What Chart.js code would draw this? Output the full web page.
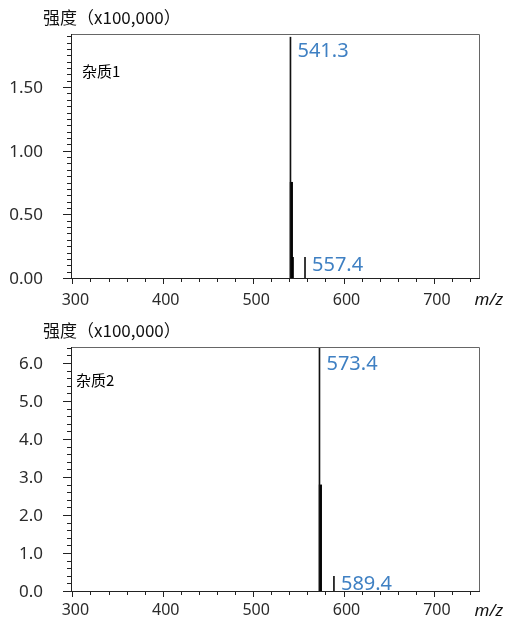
<!DOCTYPE html>
<html>
<head>
<meta charset="utf-8">
<script src="https://cdn.jsdelivr.net/npm/chart.js@4"></script>
<style>
  html, body { margin: 0; padding: 0; background: #fff; }
  .box { position: relative; width: 507px; height: 310px; }
</style>
</head>
<body>
<div class="box"><canvas id="chart1" width="507" height="310"></canvas></div>
<div class="box"><canvas id="chart2" width="507" height="310"></canvas></div>
<script>
// m/z axis (shared)
const xMin = 298.5;
const xMax = 751;
const xTickValues = [300, 400, 500, 600, 700];

// 杂质1 spectrum (intensity x100,000)
const peaks1Mz = [541.3, 557.4];
const peaks1Int = [1.90, 0.17];
const iso1Mz = [542.3, 543.3];
const iso1Int = [0.76, 0.17];
const yTicks1 = [0, 0.5, 1.0, 1.5];
const yMax1 = 1.925;

// 杂质2 spectrum (intensity x100,000)
const peaks2Mz = [573.4, 589.4];
const peaks2Int = [6.42, 0.41];
const iso2Mz = [574.4];
const iso2Int = [2.82];
const yTicks2 = [0, 1, 2, 3, 4, 5, 6];
const yMax2 = 6.45;

const yTitle = '强度（x100,000）';
const xTitle = 'm/z';

const numFont = '"Noto Sans", sans-serif';
const cjkFont = '"Noto Sans CJK SC", sans-serif';

// Frame, tick marks and text annotations
const spectrumDecor = {
    id: 'spectrumDecor',
    afterDraw(chart, args, opts) {
        const ctx = chart.ctx;
        const a = chart.chartArea;
        const xs = chart.scales.x;
        const ys = chart.scales.y;
        ctx.save();

        // top / right frame
        ctx.strokeStyle = '#666';
        ctx.lineWidth = 1;
        ctx.beginPath();
        ctx.moveTo(a.left, a.top + 0.5);
        ctx.lineTo(a.right - 0.5, a.top + 0.5);
        ctx.lineTo(a.right - 0.5, a.bottom);
        ctx.stroke();

        // axis lines
        ctx.strokeStyle = '#222';
        ctx.beginPath();
        ctx.moveTo(a.left - 8, a.bottom - 0.5);
        ctx.lineTo(a.right, a.bottom - 0.5);
        ctx.moveTo(a.left + 0.5, a.top);
        ctx.lineTo(a.left + 0.5, a.bottom);
        ctx.stroke();

        // y ticks (major + minor)
        ctx.beginPath();
        const n = Math.floor(ys.max / opts.yMinor + 1e-6);
        for (let i = 0; i <= n; i++) {
            const v = i * opts.yMinor;
            const r = v / opts.yMajor;
            const major = Math.abs(r - Math.round(r)) < 1e-6;
            const py = Math.round(ys.getPixelForValue(v)) - 0.5;
            ctx.moveTo(a.left, py);
            ctx.lineTo(a.left - (major ? 8 : 4), py);
        }
        // x ticks
        for (let v = Math.ceil(xs.min / 20) * 20; v <= xs.max; v += 20) {
            const px = Math.round(xs.getPixelForValue(v)) + 0.5;
            ctx.moveTo(px, a.bottom);
            ctx.lineTo(px, a.bottom + (v % 100 === 0 ? 5 : 3));
        }
        ctx.stroke();

        // peak labels
        ctx.fillStyle = '#3f80c3';
        ctx.font = '20px ' + numFont;
        ctx.textAlign = 'left';
        ctx.textBaseline = 'alphabetic';
        opts.labelMz.forEach((m, i) => {
            const top = ys.getPixelForValue(opts.labelInt[i]);
            const y = Math.max(top - 1, a.top + 8) + 15;
            ctx.fillText(m.toFixed(1), xs.getPixelForValue(m) + 7, y);
        });

        // sample name
        ctx.fillStyle = '#000';
        ctx.font = '15px ' + cjkFont;
        ctx.textBaseline = 'middle';
        ctx.fillText(opts.sample, opts.sampleX, a.top + opts.sampleDy);

        // axis titles
        ctx.font = '17px ' + cjkFont;
        ctx.fillStyle = '#111';
        ctx.fillText(yTitle, 43, a.top - 16);

        ctx.font = 'italic 17px ' + numFont;
        ctx.textAlign = 'right';
        ctx.textBaseline = 'alphabetic';
        ctx.fillText(xTitle, 503, a.bottom + opts.xTitleDy);

        ctx.restore();
    }
};

function makeSpectrum(id, mz, inten, isoMz, isoInt, yTicks, yMax, decimals, decor, pad) {
    const el = document.getElementById(id);
    if (!el) return;
    new Chart(el.getContext('2d'), {
        data: {
            datasets: [{
                type: 'bar',
                data: mz.map((m, i) => ({ x: m, y: inten[i] })),
                backgroundColor: '#111',
                barThickness: 1,
                grouped: false
            }, {
                type: 'bar',
                data: isoMz.map((m, i) => ({ x: m, y: isoInt[i] })),
                backgroundColor: '#000',
                barThickness: 2.5,
                grouped: false
            }]
        },
        options: {
            responsive: false,
            animation: false,
            devicePixelRatio: 1,
            layout: { padding: { top: pad.top, right: 27, left: 0, bottom: 0 } },
            plugins: {
                legend: { display: false },
                tooltip: { enabled: false },
                spectrumDecor: decor
            },
            scales: {
                x: {
                    type: 'linear',
                    min: xMin,
                    max: xMax,
                    offset: false,
                    grid: { display: false, drawTicks: false },
                    border: { display: false },
                    ticks: {
                        color: '#2b2b2b',
                        font: { family: numFont, size: 16 },
                        padding: pad.xLabel,
                        labelOffset: 3,
                        maxRotation: 0,
                        callback: v => String(v)
                    },
                    afterBuildTicks: s => { s.ticks = xTickValues.map(v => ({ value: v })); },
                    afterFit: s => {
                        s.height = pad.xAxis;
                        s.paddingLeft = 0; s.paddingRight = 0;
                    }
                },
                y: {
                    type: 'linear',
                    min: 0,
                    max: yMax,
                    grid: { display: false, drawTicks: false },
                    border: { display: false },
                    ticks: {
                        color: '#2b2b2b',
                        font: { family: numFont, size: 17 },
                        padding: 28,
                        callback: v => Number(v).toFixed(decimals)
                    },
                    afterBuildTicks: s => { s.ticks = yTicks.map(v => ({ value: v })); },
                    afterFit: s => {
                        s.width = 71;
                        s.paddingTop = 0; s.paddingBottom = 0;
                    }
                }
            }
        },
        plugins: [spectrumDecor]
    });
}

document.addEventListener('DOMContentLoaded', function() {
    makeSpectrum('chart1', peaks1Mz, peaks1Int, iso1Mz, iso1Int, yTicks1, yMax1, 2, {
        labelMz: peaks1Mz, labelInt: peaks1Int,
        yMajor: 0.5, yMinor: 0.05,
        sample: '杂质1', sampleX: 82, sampleDy: 37, xTitleDy: 26
    }, { top: 34, xAxis: 31, xLabel: 12 });

    makeSpectrum('chart2', peaks2Mz, peaks2Int, iso2Mz, iso2Int, yTicks2, yMax2, 1, {
        labelMz: peaks2Mz, labelInt: peaks2Int,
        yMajor: 1, yMinor: 0.2,
        sample: '杂质2', sampleX: 76, sampleDy: 33, xTitleDy: 24
    }, { top: 37, xAxis: 28, xLabel: 9 });
});
</script>
</body>
</html>
